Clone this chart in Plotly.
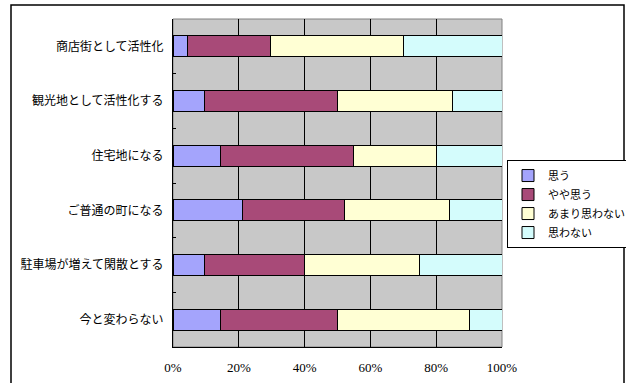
import plotly.graph_objects as go

categories = ["商店街として活性化", "観光地として活性化する", "住宅地になる",
              "ご普通の町になる", "駐車場が増えて閑散とする", "今と変わらない"]
series_names = ["思う", "やや思う", "あまり思わない", "思わない"]
omou = [4.5, 9.5, 14.5, 21.0, 9.5, 14.5]
yaya = [25.0, 40.5, 40.5, 31.0, 30.5, 35.5]
amari = [40.5, 35.0, 25.0, 32.0, 35.0, 40.0]
omowanai = [30.0, 15.0, 20.0, 16.0, 25.0, 10.0]
colors = ["#A4A4FC", "#A84A78", "#FFFFD4", "#D4FCFC"]
xtick_vals = [0, 20, 40, 60, 80, 100]
xtick_text = ["0%", "20%", "40%", "60%", "80%", "100%"]

FONT = "Liberation Serif, Noto Sans CJK JP"

fig = go.Figure()
for name, vals, col in zip(series_names, [omou, yaya, amari, omowanai], colors):
    fig.add_trace(go.Bar(
        y=categories, x=vals, name=name, orientation="h",
        marker=dict(color=col, line=dict(color="black", width=1)),
    ))

fig.update_layout(
    width=626, height=383,
    margin=dict(l=173, r=124, t=19, b=36, autoexpand=False),
    barmode="stack", bargap=0.615,
    paper_bgcolor="white", plot_bgcolor="#C8C8C8",
    font=dict(family=FONT, size=12, color="black"),
    legend=dict(
        x=(507 - 173) / 329, y=0.57, xanchor="left", yanchor="top",
        bgcolor="white", bordercolor="black", borderwidth=1,
        font=dict(family=FONT, size=11), tracegroupgap=0,
        itemwidth=30, traceorder="normal",
    ),
    xaxis=dict(
        range=[0, 100], tickvals=xtick_vals, ticktext=xtick_text,
        showgrid=True, gridcolor="black", gridwidth=1,
        showline=True, linecolor="black", linewidth=1,
        ticks="", zeroline=False, tickfont=dict(size=13),
        ticklabelstandoff=8,
    ),
    yaxis=dict(
        autorange="reversed", type="category",
        showgrid=False, showline=True, linecolor="black", linewidth=1,
        ticks="inside", ticklen=3, tickson="boundaries", tickcolor="black",
        tickfont=dict(size=12), ticklabelstandoff=6,
    ),
    shapes=[
        dict(type="rect", xref="paper", yref="paper", x0=0, x1=1, y0=0, y1=1,
             line=dict(color="#808080", width=1), layer="below"),
        dict(type="rect", xref="paper", yref="paper",
             x0=(11 - 173) / 329, x1=(624 - 173) / 329,
             y0=-0.3, y1=1 + (19 - 5) / 328,
             line=dict(color="black", width=1.5)),
    ],
)

fig.write_html("out.html")
